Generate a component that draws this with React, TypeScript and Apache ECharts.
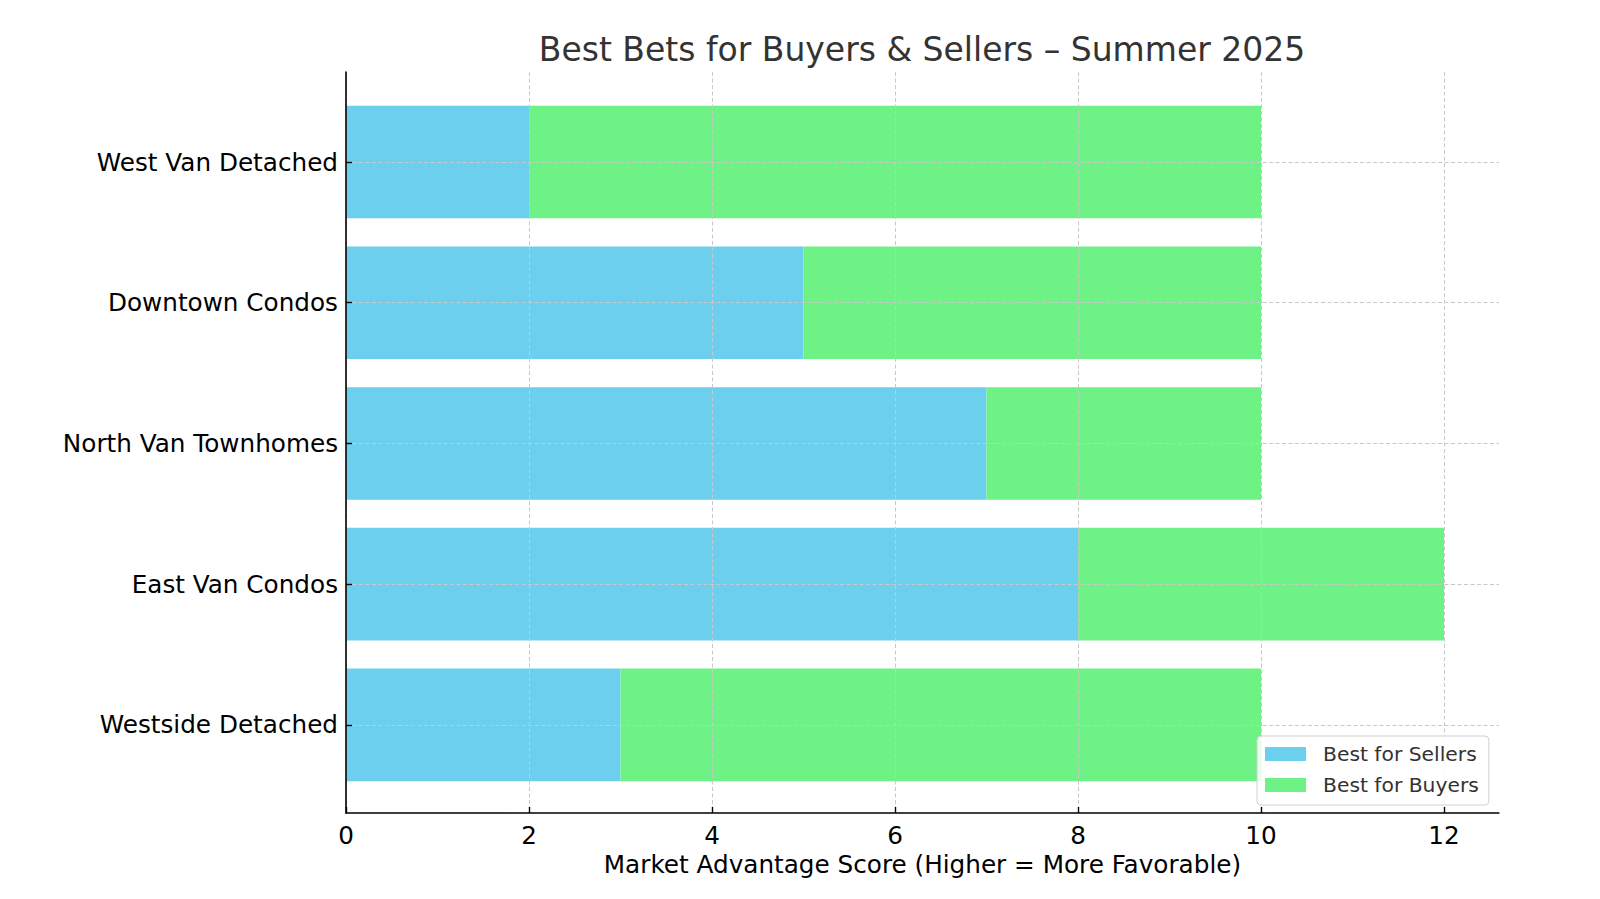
import React, { useEffect, useRef } from "react";
import * as echarts from "echarts";

const categories = [
  "West Van Detached",
  "Downtown Condos",
  "North Van Townhomes",
  "East Van Condos",
  "Westside Detached",
];
const sellers = [2, 5, 7, 8, 3];
const buyers = [8, 5, 3, 4, 7];
const xTickMax = 12;
const xAxisMax = 12.6;

const FONT = "DejaVu Sans";
const SELL_COLOR = "#6dcfee";
const BUY_COLOR = "#6ef285";
const GRID_COLOR = "#c8c8c8";
const FS = 24.7;

export default function App() {
  const ref = useRef<HTMLDivElement>(null);
  useEffect(() => {
    if (!ref.current) return;
    const chart = echarts.init(ref.current, undefined, { renderer: "svg" });
    const pxPerUnit = 91.5;
    const plotLeft = 346;
    const plotTop = 72;
    const plotH = 741;
    const band = 140.7;
    const barsTop = plotTop + 0.14 * band;
    chart.setOption({
      animation: false,
      backgroundColor: "#ffffff",
      title: {
        text: "Best Bets for Buyers & Sellers – Summer 2025",
        left: 917,
        textAlign: "center",
        top: 28,
        textStyle: { fontFamily: FONT, fontSize: 33, fontWeight: "normal", color: "#333333" },
      },
      legend: {
        data: ["Best for Sellers", "Best for Buyers"],
        orient: "vertical",
        left: 1257,
        top: 736,
        itemWidth: 41,
        itemHeight: 14,
        itemGap: 11,
        icon: "rect",
        padding: [8, 10, 10, 8],
        borderColor: "#d0d0d0",
        borderWidth: 1,
        borderRadius: 4,
        backgroundColor: "rgba(255,255,255,0.85)",
        textStyle: { fontFamily: FONT, fontSize: 20.3, color: "#333333", padding: [0, 0, 0, 12] },
        z: 20,
      },
      grid: [
        { left: plotLeft, top: plotTop, width: xAxisMax * pxPerUnit, height: plotH },
        { left: plotLeft, top: plotTop, width: xTickMax * pxPerUnit, height: plotH },
        { left: plotLeft, top: barsTop, width: xAxisMax * pxPerUnit, height: 5 * band },
      ],
      xAxis: [
        {
          gridIndex: 0,
          type: "value",
          min: 0,
          max: xAxisMax,
          axisLine: { show: true, lineStyle: { color: "#000", width: 1.6 } },
          axisTick: { show: false },
          axisLabel: { show: false },
          splitLine: { show: false },
          name: "Market Advantage Score (Higher = More Favorable)",
          nameLocation: "middle",
          nameGap: 39,
          nameTextStyle: { fontFamily: FONT, fontSize: FS, color: "#000" },
          z: 6,
        },
        {
          gridIndex: 1,
          type: "value",
          min: 0,
          max: xTickMax,
          interval: 2,
          axisLine: { show: false },
          axisTick: { show: true, inside: true, length: 6, lineStyle: { color: "#000", width: 1.4 } },
          axisLabel: { fontFamily: FONT, fontSize: FS, color: "#000", margin: 10 },
          splitLine: { show: true, lineStyle: { color: GRID_COLOR, type: [4, 2.5], width: 1 } },
          z: 5,
        },
        {
          gridIndex: 2,
          type: "value",
          min: 0,
          max: xAxisMax,
          show: false,
        },
      ],
      yAxis: [
        {
          gridIndex: 0,
          type: "value",
          min: 0,
          max: 1,
          axisLine: { show: true, lineStyle: { color: "#000", width: 1.6 } },
          axisTick: { show: false },
          axisLabel: { show: false },
          splitLine: { show: false },
          z: 6,
        },
        { gridIndex: 1, type: "value", show: false },
        {
          gridIndex: 2,
          type: "category",
          data: categories,
          inverse: true,
          axisLine: { show: false },
          axisTick: { show: true, inside: true, alignWithLabel: true, length: 6, lineStyle: { color: "#000", width: 1.4 } },
          axisLabel: { fontFamily: FONT, fontSize: FS, color: "#000", margin: 8 },
          splitLine: { show: true, alignWithLabel: true, lineStyle: { color: GRID_COLOR, type: [4, 2.5], width: 1 } },
          z: 5,
        },
      ],
      series: [
        {
          name: "Best for Sellers",
          type: "bar",
          stack: "total",
          xAxisIndex: 2,
          yAxisIndex: 2,
          data: sellers,
          barCategoryGap: "20%",
          itemStyle: { color: SELL_COLOR },
        },
        {
          name: "Best for Buyers",
          type: "bar",
          stack: "total",
          xAxisIndex: 2,
          yAxisIndex: 2,
          data: buyers,
          barCategoryGap: "20%",
          itemStyle: { color: BUY_COLOR },
        },
      ],
    });
    return () => chart.dispose();
  }, []);
  return (
    <div
      ref={ref}
      style={{ position: "absolute", left: 0, top: 0, width: 1600, height: 899 }}
    />
  );
}
